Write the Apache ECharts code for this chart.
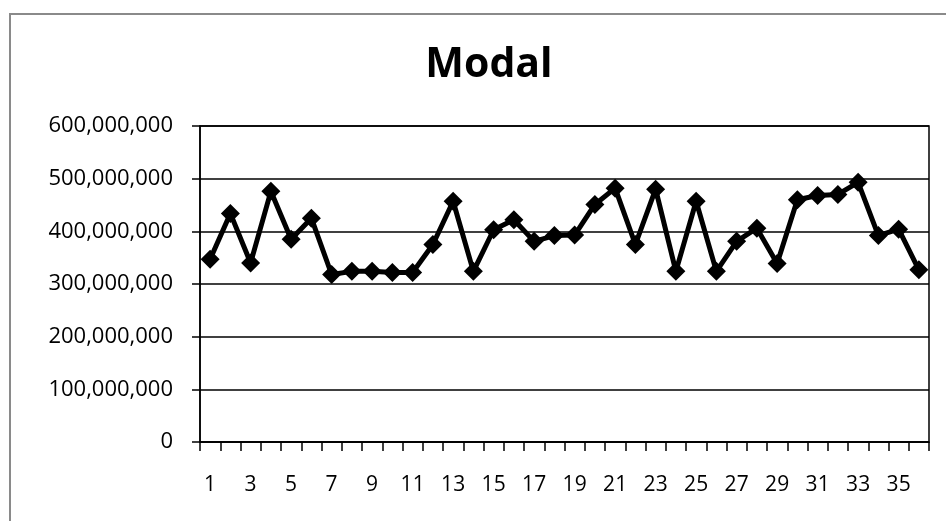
<!DOCTYPE html>
<html>
<head>
<meta charset="utf-8">
<script src="https://cdn.jsdelivr.net/npm/echarts@6/dist/echarts.min.js"></script>
<style>
html,body{margin:0;padding:0;background:#fff;}
#chart{width:946px;height:521px;}
</style>
</head>
<body>
<div id="chart"></div>
<script>
const categories = ['1','2','3','4','5','6','7','8','9','10','11','12','13','14','15','16','17','18','19','20','21','22','23','24','25','26','27','28','29','30','31','32','33','34','35','36'];
const modalValues = [347e6, 434e6, 340e6, 476e6, 385e6, 425e6, 318e6, 324e6, 324e6, 322e6, 322e6, 375e6,
  457e6, 324e6, 403e6, 422e6, 381e6, 392e6, 393e6, 451e6, 482e6, 375e6, 480e6, 324e6,
  457e6, 324e6, 381e6, 406e6, 339e6, 460e6, 468e6, 470e6, 493e6, 392e6, 404e6, 327e6];
const titleText = 'Modal';
const yMin = 0, yMax = 600000000, yInterval = 100000000;

const chart = echarts.init(document.getElementById('chart'));
const font = '"Open Sans", "DejaVu Sans", sans-serif';
chart.setOption({
  backgroundColor: '#ffffff',
  animation: false,
  graphic: [{
    type: 'rect',
    shape: { x: 10, y: 14, width: 960, height: 540 },
    style: { fill: 'none', stroke: '#8a8a8a', lineWidth: 2 },
    silent: true
  }],
  title: {
    text: titleText,
    left: 484,
    top: 40,
    textAlign: 'center',
    textStyle: { fontFamily: font, fontSize: 41, fontWeight: 'bold', color: '#000' }
  },
  grid: {
    left: 200, right: 17, top: 126, bottom: 79,
    show: true, borderColor: '#000', borderWidth: 1.5, backgroundColor: 'transparent'
  },
  xAxis: {
    type: 'category',
    data: categories,
    boundaryGap: true,
    axisLine: { lineStyle: { color: '#000', width: 1.5 } },
    axisTick: { show: true, interval: 0, length: 9, lineStyle: { color: '#000', width: 1.5 } },
    axisLabel: { interval: 1, margin: 33, fontFamily: font, fontSize: 21, color: '#000' },
    splitLine: { show: false }
  },
  yAxis: {
    type: 'value',
    min: yMin, max: yMax, interval: yInterval,
    axisLine: { show: true, lineStyle: { color: '#000', width: 1.5 } },
    axisTick: { show: true, length: 8, lineStyle: { color: '#000', width: 1.5 } },
    axisLabel: {
      margin: 27, fontFamily: font, fontSize: 22, color: '#000',
      formatter: v => v.toLocaleString('en-US')
    },
    splitLine: { show: true, lineStyle: { color: '#000', width: 1.5 } }
  },
  series: [{
    type: 'line',
    data: modalValues,
    symbol: 'diamond',
    symbolSize: 19,
    showAllSymbol: true,
    lineStyle: { color: '#000', width: 5 },
    itemStyle: { color: '#000', borderWidth: 0 },
    z: 5
  }]
});
</script>
</body>
</html>
